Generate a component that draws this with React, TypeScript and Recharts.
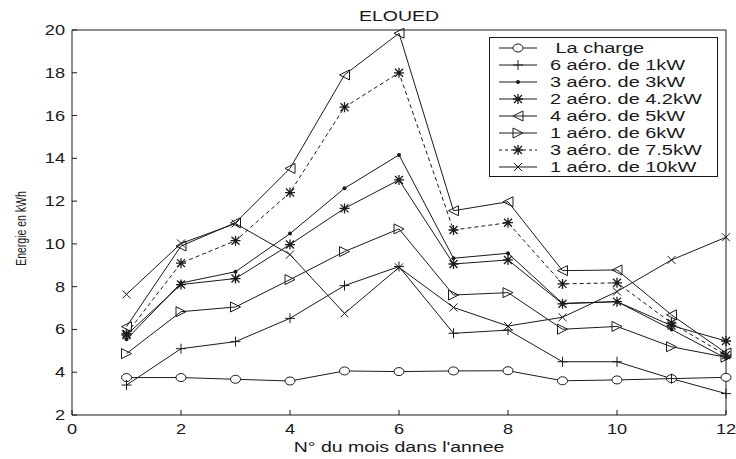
import React from 'react'
import { LineChart, Line, XAxis, YAxis, ReferenceLine } from 'recharts'

const months = [1, 2, 3, 4, 5, 6, 7, 8, 9, 10, 11, 12]
const charge = [3.75, 3.75, 3.67, 3.59, 4.06, 4.03, 4.06, 4.07, 3.6, 3.64, 3.7, 3.76]
const kw1 = [3.4, 5.1, 5.43, 6.52, 8.05, 8.94, 5.82, 5.97, 4.49, 4.49, 3.7, 3.0]
const kw3 = [5.54, 8.17, 8.7, 10.48, 12.6, 14.16, 9.33, 9.56, 7.22, 7.3, 6.0, 4.65]
const kw42 = [5.74, 8.1, 8.38, 9.97, 11.66, 12.99, 9.06, 9.25, 7.2, 7.3, 6.18, 5.46]
const kw5 = [6.13, 9.9, 10.99, 13.53, 17.9, 19.85, 11.55, 11.97, 8.75, 8.78, 6.68, 4.9]
const kw6 = [4.87, 6.83, 7.05, 8.33, 9.64, 10.7, 7.61, 7.72, 6.01, 6.14, 5.19, 4.7]
const kw75 = [5.8, 9.1, 10.15, 12.4, 16.39, 18.0, 10.65, 10.99, 8.13, 8.18, 6.3, 4.8]
const kw10 = [7.64, 10.02, 10.95, 9.5, 6.75, 8.9, 7.03, 6.16, 6.57, 7.77, 9.25, 10.31]

const xTicks = [0, 2, 4, 6, 8, 10, 12]
const yTicks = [2, 4, 6, 8, 10, 12, 14, 16, 18, 20]

type MarkerKind = 'circle' | 'plus' | 'point' | 'star' | 'triLeft' | 'triRight' | 'cross'

const series: { key: string; name: string; marker: MarkerKind; dashed?: boolean; values: number[] }[] = [
  { key: 'charge', name: ' La charge', marker: 'circle', values: charge },
  { key: 'kw1', name: '6 aéro. de 1kW', marker: 'plus', values: kw1 },
  { key: 'kw3', name: '3 aéro. de 3kW', marker: 'point', values: kw3 },
  { key: 'kw42', name: '2 aéro. de 4.2kW', marker: 'star', values: kw42 },
  { key: 'kw5', name: '4 aéro. de 5kW', marker: 'triLeft', values: kw5 },
  { key: 'kw6', name: '1 aéro. de 6kW', marker: 'triRight', values: kw6 },
  { key: 'kw75', name: '3 aéro. de 7.5kW', marker: 'star', dashed: true, values: kw75 },
  { key: 'kw10', name: '1 aéro. de 10kW', marker: 'cross', values: kw10 }
]

const data = months.map((m, i) => {
  const row: Record<string, number> = { month: m }
  series.forEach(s => (row[s.key] = s.values[i]))
  return row
})

const INK = '#1a1a1a'
const FONT = '"Liberation Sans", Arial, sans-serif'
const STRETCH = 1.3
const PLOT_TOP = 30
const PLOT_BOTTOM = 415
const PLOT_LEFT = 72

// the source picture is a matlab export stretched sideways, so text is widened
function WideText({ x, y, anchor = 'start', size = 14, sx = STRETCH, children }: any) {
  return (
    <text
      transform={`translate(${x},${y}) scale(${sx},1)`}
      textAnchor={anchor}
      fontSize={size}
      fontFamily={FONT}
      fill={INK}
      style={{ whiteSpace: 'pre' }}
    >
      {children}
    </text>
  )
}

function Marker({ kind, cx, cy }: { kind: MarkerKind; cx: number; cy: number }) {
  const p = { stroke: INK, strokeWidth: 1, fill: 'none' }
  switch (kind) {
    case 'circle':
      return <ellipse cx={cx} cy={cy} rx={5} ry={4} {...p} fill="#fff" />
    case 'plus':
      return <path d={`M${cx - 5},${cy}H${cx + 5}M${cx},${cy - 5}V${cy + 5}`} {...p} />
    case 'point':
      return <circle cx={cx} cy={cy} r={2} fill={INK} />
    case 'star':
      return (
        <path
          d={`M${cx - 5},${cy}H${cx + 5}M${cx},${cy - 5}V${cy + 5}M${cx - 4},${cy - 4}L${cx + 4},${cy + 4}M${cx - 4},${cy + 4}L${cx + 4},${cy - 4}`}
          {...p}
          strokeWidth={1.3}
        />
      )
    case 'triLeft':
      return <path d={`M${cx - 5},${cy}L${cx + 5},${cy - 5}L${cx + 5},${cy + 5}Z`} {...p} />
    case 'triRight':
      return <path d={`M${cx + 5},${cy}L${cx - 5},${cy - 5}L${cx - 5},${cy + 5}Z`} {...p} />
    case 'cross':
      return <path d={`M${cx - 4},${cy - 4}L${cx + 4},${cy + 4}M${cx - 4},${cy + 4}L${cx + 4},${cy - 4}`} {...p} />
  }
}

function XTick(props: any) {
  const { x, payload } = props
  return (
    <g>
      <line x1={x} x2={x} y1={PLOT_BOTTOM} y2={PLOT_BOTTOM - 5} stroke={INK} />
      <WideText x={x} y={PLOT_BOTTOM + 19} anchor="middle">
        {payload.value}
      </WideText>
    </g>
  )
}

function YTick(props: any) {
  const { y, payload } = props
  return (
    <g>
      <line x1={PLOT_LEFT} x2={PLOT_LEFT + 5} y1={y} y2={y} stroke={INK} />
      <WideText x={PLOT_LEFT - 7} y={y + 5} anchor="end">
        {payload.value}
      </WideText>
    </g>
  )
}

function XLabel(props: any) {
  const { viewBox } = props
  return (
    <WideText x={viewBox.x + viewBox.width / 2} y={PLOT_BOTTOM + 37} anchor="middle" size={15}>
      N° du mois dans l'annee
    </WideText>
  )
}

function YLabel(props: any) {
  const { viewBox } = props
  const cy = viewBox.y + viewBox.height / 2 + 6
  return (
    <text
      transform={`translate(26,${cy}) rotate(-90) scale(1,1.35)`}
      textAnchor="middle"
      fontSize={10.5}
      fontFamily={FONT}
      fill={INK}
    >
      Energie en kWh
    </text>
  )
}

function LegendBox() {
  const rowH = 17
  return (
    <svg width={230} height={141} style={{ display: 'block' }}>
      <rect x={0.5} y={0.5} width={228} height={139} fill="#fff" stroke={INK} />
      {series.map((s, i) => {
        const cy = 11 + i * rowH
        return (
          <g key={s.key}>
            <line x1={10} x2={48} y1={cy} y2={cy} stroke={INK} strokeDasharray={s.dashed ? '3 3' : undefined} />
            <Marker kind={s.marker} cx={29} cy={cy} />
            <WideText x={61} y={cy + 5} size={15} sx={1.33}>
              {s.name}
            </WideText>
          </g>
        )
      })}
    </svg>
  )
}

export default function App() {
  return (
    <div style={{ position: 'relative', width: 736, height: 459, background: '#fff', fontFamily: FONT }}>
      <style>{'body{margin:0}'}</style>
      <svg width={736} height={30} style={{ position: 'absolute', left: 0, top: 0 }}>
        <WideText x={399} y={21} anchor="middle" size={15}>
          ELOUED
        </WideText>
      </svg>
      <LineChart width={736} height={459} data={data} margin={{ top: PLOT_TOP, right: 10, bottom: 0, left: 0 }}>
        <XAxis
          dataKey="month"
          type="number"
          domain={[0, 12]}
          ticks={xTicks}
          height={44}
          stroke={INK}
          tickLine={false}
          tick={<XTick />}
          label={<XLabel />}
        />
        <YAxis
          type="number"
          domain={[2, 20]}
          ticks={yTicks}
          width={72}
          stroke={INK}
          tickLine={false}
          tick={<YTick />}
          label={<YLabel />}
        />
        <ReferenceLine y={20} stroke={INK} />
        <ReferenceLine x={12} stroke={INK} />
        {series.map(s => (
          <Line
            key={s.key}
            dataKey={s.key}
            name={s.name}
            type="linear"
            stroke={INK}
            strokeWidth={1}
            strokeDasharray={s.dashed ? '4 3' : undefined}
            isAnimationActive={false}
            activeDot={false}
            dot={(p: any) => (
              <g key={`${s.key}-${p.index}`}>
                <Marker kind={s.marker} cx={p.cx} cy={p.cy} />
              </g>
            )}
          />
        ))}
      </LineChart>
      <div style={{ position: 'absolute', left: 489, top: 37 }}>
        <LegendBox />
      </div>
    </div>
  )
}
